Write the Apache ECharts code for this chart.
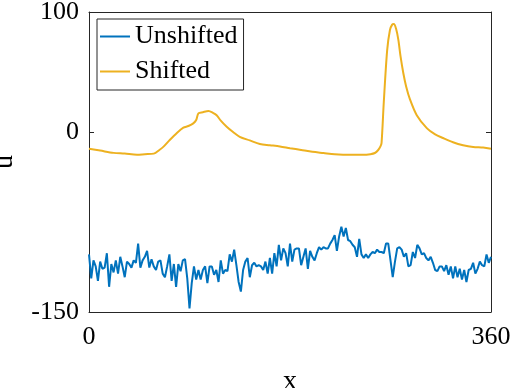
<!DOCTYPE html>
<html lang="en">
<head>
    <meta charset="UTF-8">
    <title>Unshifted / Shifted</title>
    <script type="text/javascript" src="https://cdn.jsdelivr.net/npm/echarts@6/dist/echarts.min.js"></script>
    <style>
        html, body { margin: 0; padding: 0; background: #fff; }
    </style>
</head>
<body>
<div id="container" style="height:388px;width:513px"></div>
<script>
    // tick labels
    var xTicks = [0, 360];
    var yTicks = [-150, 0, 100];

    // unshifted: sampled every 2 units of x, from 0 to 360
    var unshiftedStep = 2;
    var unshiftedY = [
        -102, -122, -107, -112, -124, -108, -114, -113, -101, -129,
        -110, -117, -107, -118, -104, -112, -121, -108, -110, -113,
        -107, -109, -93, -113, -107, -104, -99, -113, -106, -112,
        -115, -108, -107, -118, -121, -112, -102, -124, -110, -129,
        -110, -116, -107, -106, -122, -147, -126, -112, -123, -115,
        -123, -115, -112, -126, -112, -112, -119, -115, -125, -107,
        -118, -115, -116, -102, -108, -98, -111, -125, -133, -115,
        -108, -105, -121, -111, -109, -112, -111, -112, -115, -108,
        -118, -105, -118, -101, -112, -94, -107, -97, -101, -112,
        -93, -108, -98, -97, -97, -111, -104, -97, -114, -99,
        -104, -107, -101, -96, -98, -96, -97, -97, -93, -90,
        -86, -99, -87, -79, -87, -80, -90, -91, -94, -96,
        -104, -89, -102, -105, -102, -105, -102, -100, -101, -98,
        -100, -100, -101, -93, -93, -107, -121, -108, -97, -96,
        -98, -104, -101, -112, -111, -100, -105, -94, -97, -102,
        -101, -105, -107, -104, -109, -115, -116, -112, -112, -116,
        -111, -119, -112, -122, -112, -121, -114, -123, -115, -125,
        -115, -114, -109, -118, -114, -108, -111, -112, -102, -109,
        -104
    ];

    // shifted: smooth curve, read at irregular x
    var shiftedX = [0, 10, 22, 32, 43, 50, 58, 63, 67, 72, 78.5, 84.5, 89, 93.4, 96, 98, 102, 107, 111, 114.3,
        118, 123.3, 129, 135, 144, 153, 162, 171, 180, 190, 200, 210, 220, 234, 245, 252, 256, 259, 261,
        262, 264, 267, 269.5, 271.5, 273, 275, 277, 279, 281.5, 284, 287.5, 293.5, 302.7, 310, 317,
        326, 335, 344, 353, 360];
    var shiftedY = [-14, -15.5, -17.4, -18, -19, -18.5, -18, -15, -12, -7, -1, 3.6, 5, 7.2, 10, 15.5, 16.5, 17.5, 16, 14,
        9.5, 4.4, 0, -4, -7, -10, -11, -12, -13.5, -15, -16.5, -17.5, -18.5, -19, -19, -18.5, -17.5, -15, -12,
        -9, 25, 68, 85, 89.5, 90, 86, 77, 63, 49, 38, 27, 14, 3, -2, -5,
        -8.5, -11, -12.5, -13, -14];

    var seriesNames = ['Unshifted', 'Shifted'];
    var seriesColors = ['#0072BD', '#EDB120'];

    var unshiftedData = unshiftedY.map(function (v, i) { return [i * unshiftedStep, v]; });
    var shiftedData = shiftedX.map(function (x, i) { return [x, shiftedY[i]]; });

    var font = 'Liberation Serif';
    var axisColor = '#262626';

    var dom = document.getElementById("container");
    var myChart = echarts.init(dom, null, {renderer: 'canvas'});
    var option = {
        animation: false,
        grid: {left: 89, right: 22, top: 12, bottom: 76, containLabel: false, outerBoundsMode: 'none'},
        legend: {
            orient: 'vertical',
            left: 97, top: 19,
            data: seriesNames,
            icon: 'rect',
            itemWidth: 30, itemHeight: 2, itemGap: 6,
            padding: [3, 6, 4, 3],
            borderColor: axisColor, borderWidth: 1,
            backgroundColor: '#fff',
            textStyle: {fontFamily: font, fontSize: 26, color: '#000', lineHeight: 29}
        },
        xAxis: [{
            type: 'value', min: 0, max: 360,
            name: 'x', nameLocation: 'middle', nameGap: 56,
            nameTextStyle: {fontFamily: font, fontSize: 28, color: '#000'},
            axisLine: {show: true, onZero: false, lineStyle: {color: axisColor, width: 1}},
            axisTick: {show: true, inside: true, length: 5, customValues: xTicks, lineStyle: {color: axisColor}},
            axisLabel: {customValues: xTicks, margin: 12, fontFamily: font, fontSize: 26, color: '#000'},
            splitLine: {show: false}
        }, {
            type: 'value', min: 0, max: 360, position: 'top',
            axisLine: {show: true, onZero: false, lineStyle: {color: axisColor, width: 1}},
            axisTick: {show: false}, axisLabel: {show: false}, splitLine: {show: false}
        }],
        yAxis: [{
            type: 'value', min: -150, max: 100,
            name: 'u', nameLocation: 'middle', nameGap: 70, nameRotate: 90,
            nameTextStyle: {fontFamily: font, fontSize: 28, color: '#000'},
            axisLine: {show: true, onZero: false, lineStyle: {color: axisColor, width: 1}},
            axisTick: {show: true, inside: true, length: 5, customValues: yTicks, lineStyle: {color: axisColor}},
            axisLabel: {customValues: yTicks, margin: 10, fontFamily: font, fontSize: 26, color: '#000'},
            splitLine: {show: false}
        }, {
            type: 'value', min: -150, max: 100, position: 'right',
            axisLine: {show: true, onZero: false, lineStyle: {color: axisColor, width: 1}},
            axisTick: {show: true, inside: true, length: 5, customValues: yTicks, lineStyle: {color: axisColor}},
            axisLabel: {show: false}, splitLine: {show: false}
        }],
        series: [{
            name: seriesNames[0], type: 'line', data: unshiftedData,
            xAxisIndex: 0, yAxisIndex: 0,
            symbol: 'none', color: seriesColors[0],
            lineStyle: {width: 2, color: seriesColors[0]}
        }, {
            name: seriesNames[1], type: 'line', data: shiftedData,
            xAxisIndex: 0, yAxisIndex: 0, smooth: 0.3,
            symbol: 'none', color: seriesColors[1],
            lineStyle: {width: 2, color: seriesColors[1]}
        }]
    };
    myChart.setOption(option, true);
</script>
</body>
</html>
